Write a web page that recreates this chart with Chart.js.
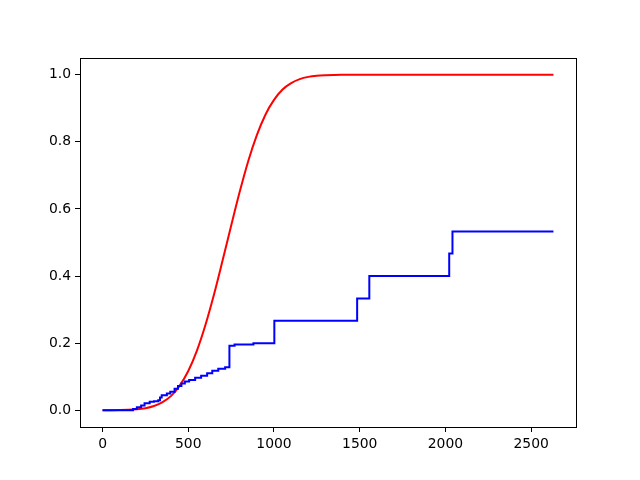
<!DOCTYPE html>
<html>
<head>
<meta charset="utf-8">
<script src="https://cdn.jsdelivr.net/npm/chart.js@4"></script>
<style>
  html, body { margin: 0; padding: 0; background: #fff; }
  #wrap { width: 640px; height: 480px; }
</style>
</head>
<body>
<div id="wrap"><canvas id="cdfChart" width="640" height="480"></canvas></div>
<script>
// Courbe rouge (lisse)
const redX = [0, 50, 100, 150, 200, 250, 300, 350, 400, 450, 500, 550, 600, 650, 700,
  750, 800, 850, 900, 950, 1000, 1050, 1100, 1150, 1200, 1250, 1300, 1350, 1400, 1500, 2000, 2630];
const redY = [0.0001, 0.0002, 0.0005, 0.0012, 0.0028, 0.0061, 0.0125, 0.0239, 0.0427, 0.0735, 0.117, 0.177, 0.254, 0.345, 0.446,
  0.550, 0.651, 0.743, 0.820, 0.881, 0.925, 0.956, 0.975, 0.987, 0.9937, 0.9971, 0.9987, 0.9995, 0.9998, 1.0, 1.0, 1.0];

// Courbe bleue (en escalier)
const blueX = [0, 178, 200, 225, 245, 275, 300, 325, 335, 345, 375, 395, 420, 440, 460, 480, 505, 540,
  575, 610, 640, 675, 715, 740, 770, 880, 1002, 1485, 1556, 2022, 2041, 2630];
const blueY = [0, 0.004, 0.009, 0.014, 0.021, 0.025, 0.027, 0.030, 0.038, 0.045, 0.050, 0.055, 0.064, 0.072, 0.080, 0.086, 0.090, 0.097,
  0.103, 0.110, 0.118, 0.124, 0.128, 0.192, 0.196, 0.200, 0.267, 0.333, 0.400, 0.467, 0.533, 0.533];

const xTicks = [0, 500, 1000, 1500, 2000, 2500];
const yTicks = [0.0, 0.2, 0.4, 0.6, 0.8, 1.0];

const toPoints = (xs, ys) => xs.map((x, i) => ({ x: x, y: ys[i] }));

// Cadre complet autour de la zone du graphique
const framePlugin = {
  id: 'frame',
  afterDraw(chart) {
    const { ctx, chartArea: a } = chart;
    ctx.save();
    ctx.strokeStyle = '#000';
    ctx.lineWidth = 1;
    ctx.strokeRect(Math.round(a.left) + 0.5, Math.round(a.top) + 0.5,
      Math.round(a.right - a.left), Math.round(a.bottom - a.top));
    ctx.restore();
  }
};

const tickFont = { family: 'DejaVu Sans', size: 13.9 };

const ctx = document.getElementById('cdfChart').getContext('2d');
new Chart(ctx, {
  type: 'line',
  data: {
    datasets: [
      {
        data: toPoints(blueX, blueY),
        borderColor: '#0000ff',
        borderWidth: 2,
        stepped: true,
        pointRadius: 0,
        fill: false,
      },
      {
        data: toPoints(redX, redY),
        borderColor: '#ff0000',
        borderWidth: 2,
        cubicInterpolationMode: 'monotone',
        pointRadius: 0,
        fill: false,
      },
    ],
  },
  options: {
    responsive: false,
    animation: false,
    events: [],
    layout: { padding: { top: 58, right: 64, left: 0, bottom: 0 } },
    plugins: {
      legend: { display: false },
      tooltip: { enabled: false },
    },
    scales: {
      x: {
        type: 'linear',
        min: -131.5,
        max: 2761.5,
        afterBuildTicks: (scale) => { scale.ticks = xTicks.map(v => ({ value: v })); },
        afterFit: (scale) => { scale.height = 53; },
        grid: { drawOnChartArea: false, drawTicks: true, tickLength: 5, color: '#000' },
        border: { display: true, color: '#000' },
        ticks: { color: '#000', font: tickFont, padding: 4, maxRotation: 0, callback: v => String(v) },
      },
      y: {
        type: 'linear',
        min: -0.05,
        max: 1.05,
        afterBuildTicks: (scale) => { scale.ticks = yTicks.map(v => ({ value: v })); },
        afterFit: (scale) => { scale.width = 80; },
        grid: { drawOnChartArea: false, drawTicks: true, tickLength: 5, color: '#000' },
        border: { display: true, color: '#000' },
        ticks: { color: '#000', font: tickFont, padding: 4, callback: v => v.toFixed(1) },
      },
    },
  },
  plugins: [framePlugin],
});
</script>
</body>
</html>
